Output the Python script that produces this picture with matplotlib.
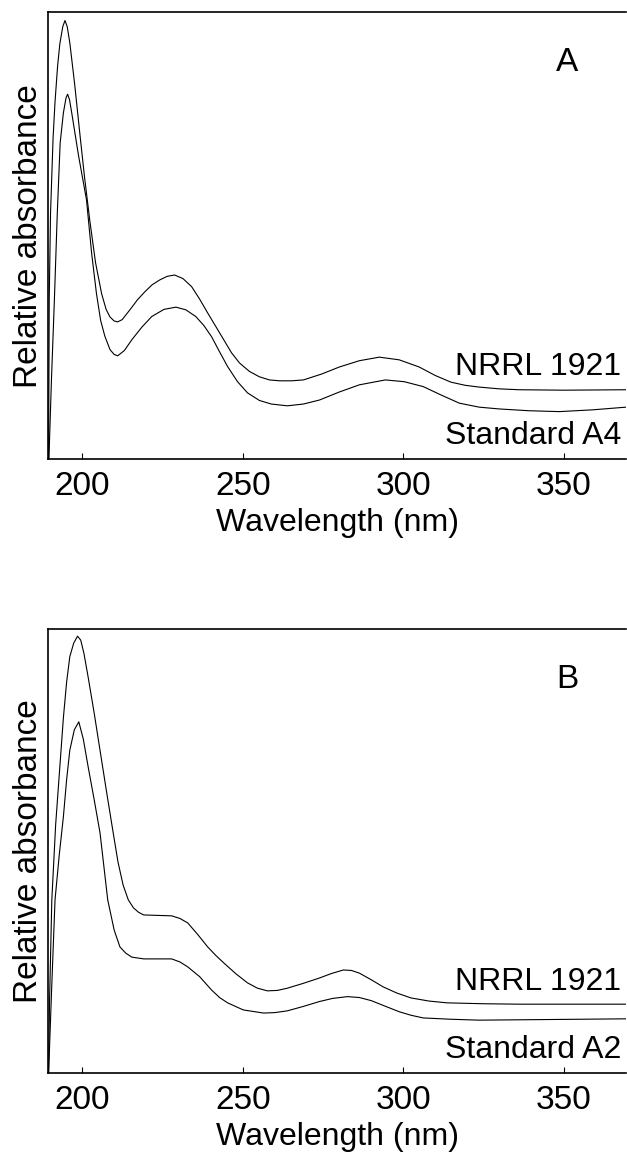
import matplotlib
matplotlib.use("Agg")
import matplotlib.pyplot as plt

plt.rcParams['font.family'] = ['Liberation Sans', 'DejaVu Sans']

# Panel A: UV spectra, NRRL 1921 vs Standard A4 (relative absorbance, arbitrary 0-1 scale)
wl_a_nrrl = [189.6, 189.8, 190.2, 191.0, 191.6, 192.4, 193.1, 194.0, 194.7, 195.4,
             196.2, 197.7, 199.3, 200.8, 202.4, 204.2, 206.1, 207.5, 208.7, 210.0,
             211.1, 212.5, 214.9, 217.2, 219.5, 221.8, 224.2, 226.5, 228.8, 231.4,
             234.1, 236.6, 239.1, 241.6, 244.1, 246.5, 249.0, 252.1, 255.2, 258.3,
             261.5, 265.2, 268.9, 274.5, 280.1, 286.3, 292.5, 298.7, 304.9, 309.9,
             314.8, 319.2, 323.5, 329.8, 336.0, 350.0, 369.3]
abs_a_nrrl = [0.0, 0.36, 0.55, 0.72, 0.80, 0.88, 0.93, 0.968, 0.982, 0.968,
              0.932, 0.84, 0.730, 0.63, 0.535, 0.44, 0.370, 0.335, 0.318, 0.309,
              0.307, 0.312, 0.334, 0.356, 0.374, 0.390, 0.401, 0.409, 0.412, 0.404,
              0.386, 0.358, 0.327, 0.297, 0.267, 0.238, 0.215, 0.196, 0.184, 0.177,
              0.175, 0.175, 0.177, 0.190, 0.206, 0.220, 0.228, 0.222, 0.206, 0.187,
              0.172, 0.165, 0.161, 0.157, 0.155, 0.154, 0.155]

wl_a_std = [189.7, 190.5, 191.4, 192.3, 193.2, 194.2, 195.0, 195.5, 196.1, 196.8,
            198.9, 201.4, 203.0, 204.5, 205.8, 207.1, 208.7, 210.0, 211.1, 213.2,
            215.5, 218.6, 221.7, 225.5, 229.2, 232.3, 235.4, 237.9, 240.3, 242.8,
            245.3, 248.4, 251.5, 255.2, 258.9, 263.9, 268.9, 273.9, 280.1, 286.3,
            294.4, 300.3, 306.2, 311.8, 317.4, 323.6, 329.8, 339.0, 348.5, 358.9,
            369.3]
abs_a_std = [0.0, 0.18, 0.356, 0.55, 0.708, 0.775, 0.808, 0.817, 0.805, 0.775,
             0.68, 0.580, 0.46, 0.37, 0.31, 0.275, 0.245, 0.234, 0.231, 0.243,
             0.267, 0.295, 0.319, 0.335, 0.340, 0.334, 0.319, 0.299, 0.274, 0.240,
             0.207, 0.173, 0.148, 0.131, 0.123, 0.119, 0.123, 0.132, 0.150, 0.166,
             0.177, 0.173, 0.162, 0.143, 0.125, 0.116, 0.112, 0.108, 0.106, 0.110,
             0.116]

# Panel B: NRRL 1921 vs Standard A2
wl_b_nrrl = [189.6, 189.9, 190.6, 191.8, 193.1, 194.2, 195.2, 196.2, 197.4, 198.6,
             199.6, 200.6, 201.9, 203.8, 205.6, 207.6, 209.7, 211.2, 212.8, 214.4,
             216.0, 217.6, 219.2, 223.5, 227.9, 230.5, 232.9, 236.0, 239.1, 241.6,
             244.1, 247.8, 251.5, 254.6, 257.7, 260.8, 263.9, 268.9, 273.9, 277.6,
             281.3, 283.8, 286.3, 290.0, 293.7, 298.0, 302.4, 308.0, 313.6, 324.8,
             335.9, 369.2]
abs_b_nrrl = [0.0, 0.164, 0.390, 0.56, 0.690, 0.80, 0.88, 0.938, 0.968, 0.984,
              0.975, 0.945, 0.892, 0.81, 0.727, 0.635, 0.541, 0.475, 0.423, 0.390,
              0.372, 0.362, 0.356, 0.355, 0.354, 0.348, 0.338, 0.312, 0.284, 0.265,
              0.248, 0.224, 0.203, 0.191, 0.185, 0.186, 0.191, 0.202, 0.214, 0.224,
              0.232, 0.231, 0.225, 0.210, 0.194, 0.180, 0.169, 0.162, 0.158, 0.156,
              0.155, 0.155]

wl_b_std = [189.6, 190.6, 191.6, 192.9, 194.2, 195.2, 196.2, 197.6, 199.0, 200.4,
            201.9, 203.8, 205.6, 208.0, 210.0, 211.8, 213.6, 215.5, 219.2, 223.5,
            227.9, 230.5, 232.9, 236.6, 240.3, 242.8, 245.3, 250.2, 256.5, 260.0,
            263.9, 268.9, 273.9, 278.0, 282.6, 286.3, 290.0, 294.5, 298.7, 302.4,
            306.2, 315.0, 323.6, 369.2]
abs_b_std = [0.0, 0.20, 0.390, 0.49, 0.577, 0.66, 0.727, 0.773, 0.791, 0.752,
             0.690, 0.615, 0.541, 0.390, 0.322, 0.284, 0.270, 0.261, 0.257, 0.257,
             0.257, 0.250, 0.239, 0.217, 0.187, 0.170, 0.158, 0.142, 0.135, 0.136,
             0.140, 0.150, 0.161, 0.168, 0.172, 0.170, 0.163, 0.150, 0.138, 0.130,
             0.124, 0.121, 0.119, 0.122]

xticks = [200, 250, 300, 350]

panels = [
    ("A", wl_a_nrrl, abs_a_nrrl, wl_a_std, abs_a_std, "Standard A4",
     [0.0770, 0.6023, 0.9215, 0.3869]),
    ("B", wl_b_nrrl, abs_b_nrrl, wl_b_std, abs_b_std, "Standard A2",
     [0.0770, 0.0702, 0.9215, 0.3847]),
]

fig = plt.figure(figsize=(6.27, 11.54), dpi=100)

for letter, wl1, a1, wl2, a2, std_label, rect in panels:
    ax = fig.add_axes(rect)
    ax.plot(wl1, a1, color="black", lw=0.8)
    ax.plot(wl2, a2, color="black", lw=0.8)
    ax.set_xlim(189.5, 369.3)
    ax.set_ylim(0, 1)
    ax.set_xticks(xticks)
    ax.set_yticks([])
    ax.tick_params(axis="x", direction="in", length=4, width=0.8, pad=9, labelsize=24)
    for side in ["left", "top", "bottom"]:
        ax.spines[side].set_linewidth(1.2)
    ax.spines["right"].set_visible(False)
    ax.set_xlabel("Wavelength (nm)", fontsize=23, labelpad=4)
    ax.set_ylabel("Relative absorbance", fontsize=24, labelpad=3)
    ax.text(367.7, 0.188, "NRRL 1921", fontsize=23, ha="right", va="baseline")
    ax.text(367.7, 0.034, std_label, fontsize=23, ha="right", va="baseline")
    ax.text(351, 0.868, letter, fontsize=24, ha="center", va="baseline")

fig.savefig("out.png", dpi=100)
